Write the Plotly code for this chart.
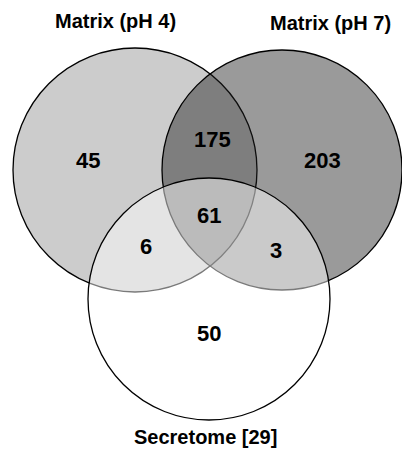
import plotly.graph_objects as go

set_names = ["Matrix (pH 4)", "Matrix (pH 7)", "Secretome [29]"]
region_keys = ["pH4 only", "pH4&pH7", "pH7 only", "all", "pH4&Sec", "pH7&Sec", "Sec only"]
region_counts = [45, 175, 203, 61, 6, 3, 50]

W, H = 402, 454
fig = go.Figure()

circles = [
    dict(cx=135, cy=170, r=122, fill="rgb(204,204,204)"),
    dict(cx=282, cy=170, r=120, fill="rgba(30,30,30,0.45)"),
    dict(cx=209, cy=299, r=121, fill="rgba(255,255,255,0.48)"),
]
for c in circles:
    fig.add_shape(type="circle", xref="x", yref="y",
                  x0=c["cx"] - c["r"], x1=c["cx"] + c["r"],
                  y0=c["cy"] - c["r"], y1=c["cy"] + c["r"],
                  fillcolor=c["fill"], line=dict(color="black", width=1.3), layer="below")

label_pos = [(115, 21), (330, 23), (205, 437)]
for name, (x, y) in zip(set_names, label_pos):
    fig.add_annotation(x=x, y=y, text=f"<b>{name}</b>", showarrow=False,
                       font=dict(family="Liberation Sans, Arial", size=20, color="black"))

num_pos = [(88, 160), (212, 139), (322, 160), (209, 215), (146, 246), (276, 250), (209, 333)]
for v, (x, y) in zip(region_counts, num_pos):
    fig.add_annotation(x=x, y=y, text=f"<b>{v}</b>", showarrow=False,
                       font=dict(family="Liberation Sans, Arial", size=22, color="black"))

fig.update_xaxes(range=[0, W], visible=False, fixedrange=True)
fig.update_yaxes(range=[H, 0], visible=False, fixedrange=True)
fig.update_layout(width=W, height=H, margin=dict(l=0, r=0, t=0, b=0),
                  paper_bgcolor="white", plot_bgcolor="white", showlegend=False)
fig.write_html("out.html", config={"displayModeBar": False},
               post_script="document.body.style.margin='0';document.body.style.overflow='hidden';")
